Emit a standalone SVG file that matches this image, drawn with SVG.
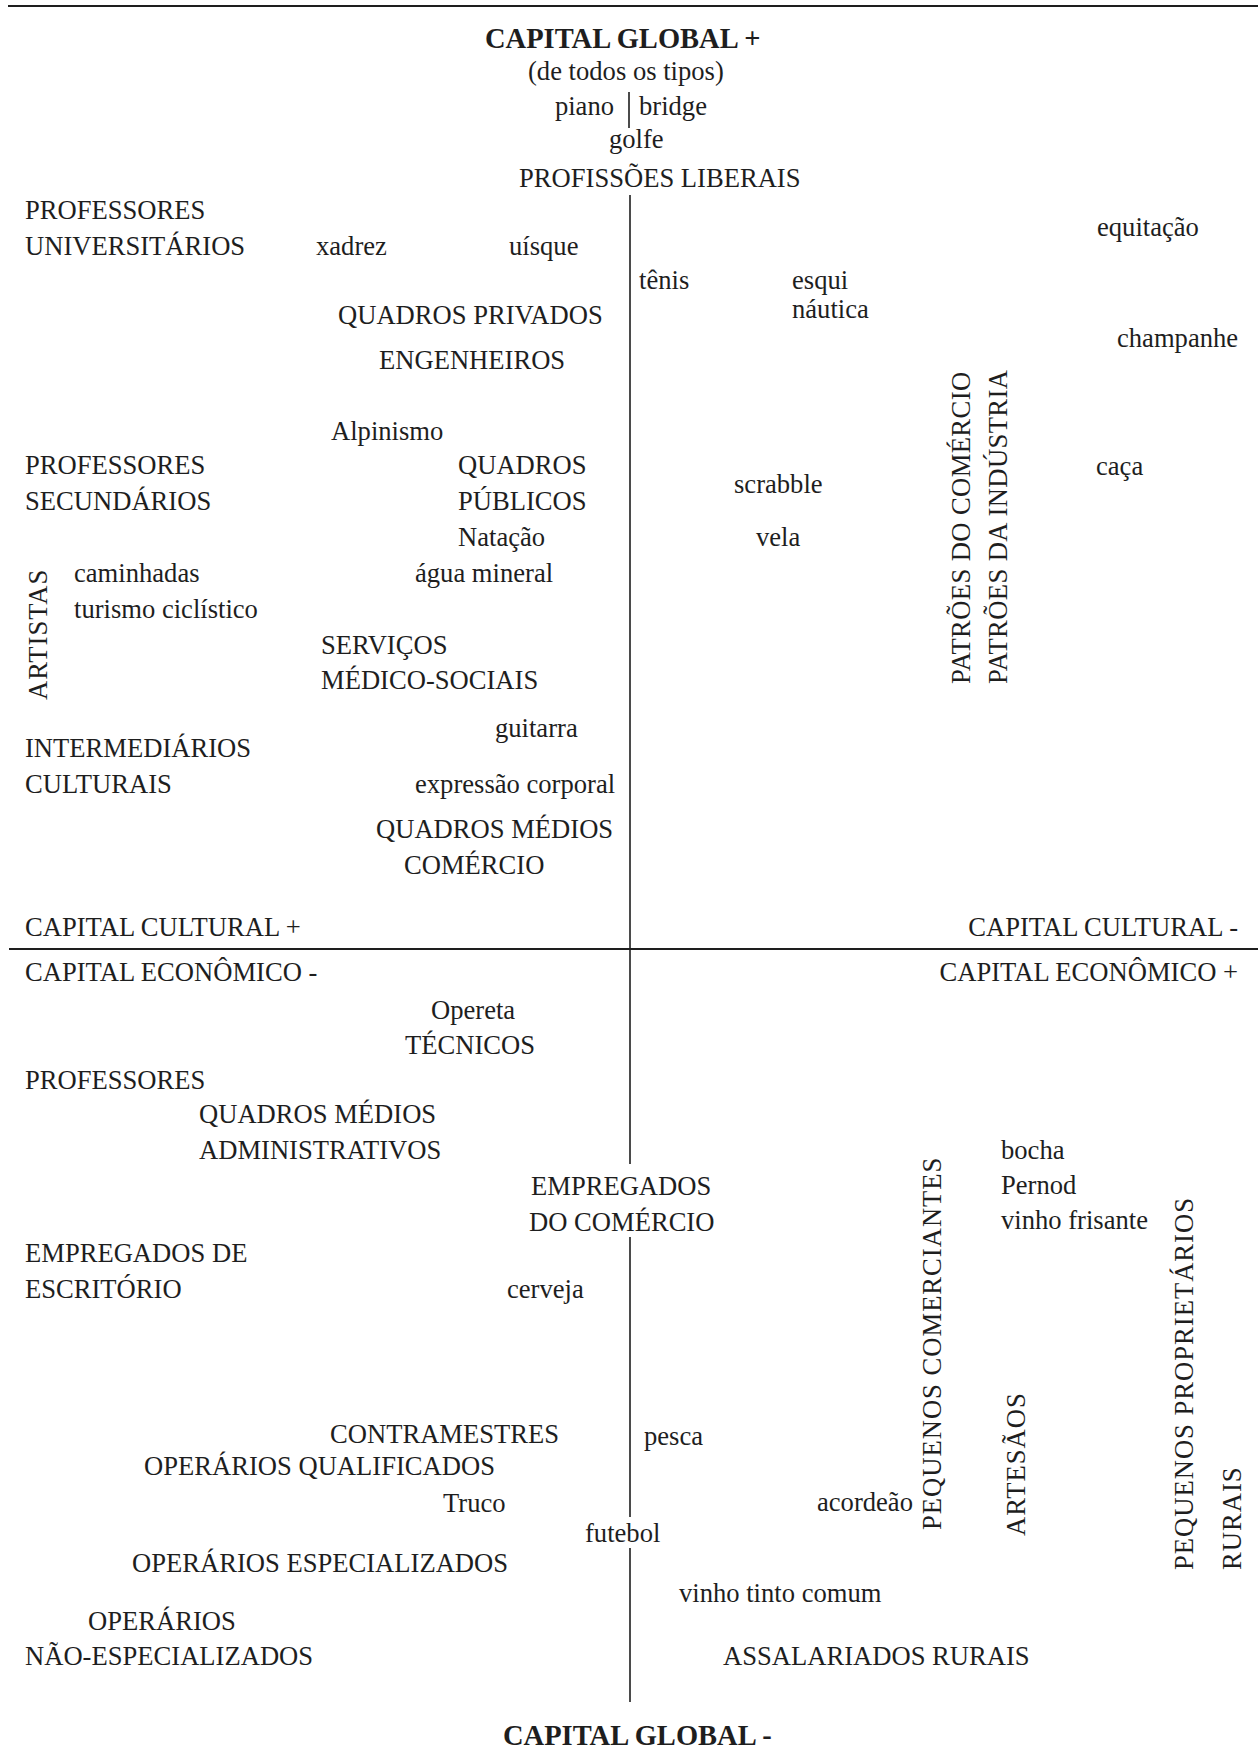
<svg xmlns="http://www.w3.org/2000/svg" width="1258" height="1764" viewBox="0 0 1258 1764">
<style>
text{font-family:"Liberation Serif","Times New Roman",serif;font-size:26.6px;fill:#1e1e1e}
.b{font-weight:bold;font-size:28.5px}
.e{text-anchor:end}
.v{letter-spacing:1px}
.v2{letter-spacing:0.4px}
.ln{stroke:#1e1e1e;fill:none;stroke-width:1.6}
.rule{stroke:#1e1e1e;fill:none;stroke-width:2.2}
</style>
<rect width="1258" height="1764" fill="#fff"/>
<g id="connectors">
<line class="rule" x1="8" y1="6" x2="1258" y2="6"/>
<line class="rule" x1="9" y1="949" x2="1258" y2="949"/>
<line class="ln" x1="629" y1="92" x2="629" y2="128"/>
<line class="ln" x1="630" y1="195" x2="630" y2="949"/>
<line class="ln" x1="630" y1="949" x2="630" y2="1164"/>
<line class="ln" x1="630" y1="1237" x2="630" y2="1517"/>
<line class="ln" x1="630" y1="1548" x2="630" y2="1702"/>
</g>
<g id="axes">
<text id="global-plus" class="b" x="485" y="48">CAPITAL GLOBAL +</text>
<text x="528" y="80">(de todos os tipos)</text>
<text id="global-minus" class="b" x="503" y="1745">CAPITAL GLOBAL -</text>
<text id="cult-plus" x="25" y="936">CAPITAL CULTURAL +</text>
<text id="cult-minus" class="e" x="1238" y="936">CAPITAL CULTURAL -</text>
<text id="eco-minus" x="25" y="981">CAPITAL ECONÔMICO -</text>
<text id="eco-plus" class="e" x="1238" y="981">CAPITAL ECONÔMICO +</text>
</g>
<g id="practices">
<text class="e" x="614" y="115">piano</text>
<text x="639" y="115">bridge</text>
<text x="609" y="148">golfe</text>
<text x="316" y="255">xadrez</text>
<text x="509" y="255">uísque</text>
<text x="639" y="289">tênis</text>
<text x="792" y="289">esqui</text>
<text x="792" y="318">náutica</text>
<text x="1097" y="236">equitação</text>
<text x="1117" y="347">champanhe</text>
<text x="331" y="440">Alpinismo</text>
<text x="734" y="493">scrabble</text>
<text x="1096" y="475">caça</text>
<text x="458" y="546">Natação</text>
<text x="756" y="546">vela</text>
<text x="74" y="582">caminhadas</text>
<text x="415" y="582">água mineral</text>
<text x="74" y="618">turismo ciclístico</text>
<text x="495" y="737">guitarra</text>
<text x="415" y="793">expressão corporal</text>
<text x="431" y="1019">Opereta</text>
<text x="1001" y="1159">bocha</text>
<text x="1001" y="1194">Pernod</text>
<text x="1001" y="1229">vinho frisante</text>
<text x="507" y="1298">cerveja</text>
<text x="644" y="1445">pesca</text>
<text x="443" y="1512">Truco</text>
<text x="585" y="1542">futebol</text>
<text x="817" y="1511">acordeão</text>
<text x="679" y="1602">vinho tinto comum</text>
</g>
<g id="groups">
<text id="prof-liberais" x="519" y="187">PROFISSÕES LIBERAIS</text>
<g id="prof-univ"><text x="25" y="219">PROFESSORES</text><text x="25" y="255">UNIVERSITÁRIOS</text></g>
<text id="quadros-privados" x="338" y="324">QUADROS PRIVADOS</text>
<text id="engenheiros" x="379" y="369">ENGENHEIROS</text>
<g id="prof-sec"><text x="25" y="474">PROFESSORES</text><text x="25" y="510">SECUNDÁRIOS</text></g>
<g id="quadros-publicos"><text x="458" y="474">QUADROS</text><text x="458" y="510">PÚBLICOS</text></g>
<text id="artistas" class="v" transform="translate(47,700) rotate(-90)">ARTISTAS</text>
<g id="servicos"><text x="321" y="654">SERVIÇOS</text><text x="321" y="689">MÉDICO-SOCIAIS</text></g>
<g id="intermediarios"><text x="25" y="757">INTERMEDIÁRIOS</text><text x="25" y="793">CULTURAIS</text></g>
<g id="quadros-medios-com"><text x="376" y="838">QUADROS MÉDIOS</text><text x="404" y="874">COMÉRCIO</text></g>
<text id="patroes-com" class="v2" transform="translate(970,684) rotate(-90)">PATRÕES DO COMÉRCIO</text>
<text id="patroes-ind" class="v2" transform="translate(1007,684) rotate(-90)">PATRÕES DA INDÚSTRIA</text>
<text id="tecnicos" x="405" y="1054">TÉCNICOS</text>
<text id="professores" x="25" y="1089">PROFESSORES</text>
<g id="quadros-medios-adm"><text x="199" y="1123">QUADROS MÉDIOS</text><text x="199" y="1159">ADMINISTRATIVOS</text></g>
<g id="empregados-com"><text x="531" y="1195">EMPREGADOS</text><text x="529" y="1231">DO COMÉRCIO</text></g>
<g id="empregados-esc"><text x="25" y="1262">EMPREGADOS DE</text><text x="25" y="1298">ESCRITÓRIO</text></g>
<text id="peq-comerciantes" class="v" transform="translate(941,1530) rotate(-90)">PEQUENOS COMERCIANTES</text>
<text id="artesaos" class="v" transform="translate(1025,1536) rotate(-90)">ARTESÃOS</text>
<g id="peq-proprietarios"><text class="v" transform="translate(1193,1570) rotate(-90)">PEQUENOS PROPRIETÁRIOS</text><text class="v" transform="translate(1241,1570) rotate(-90)">RURAIS</text></g>
<text id="contramestres" x="330" y="1443">CONTRAMESTRES</text>
<text id="op-qualif" x="144" y="1475">OPERÁRIOS QUALIFICADOS</text>
<text id="op-espec" x="132" y="1572">OPERÁRIOS ESPECIALIZADOS</text>
<g id="op-nao-espec"><text x="88" y="1630">OPERÁRIOS</text><text x="25" y="1665">NÃO-ESPECIALIZADOS</text></g>
<text id="assalariados" x="723" y="1665">ASSALARIADOS RURAIS</text>
</g>
</svg>
